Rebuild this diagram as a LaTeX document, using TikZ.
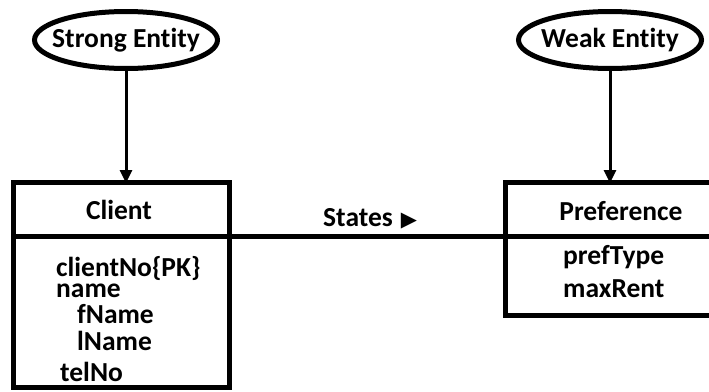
\documentclass[tikz,border=0pt]{standalone}
\usepackage{fontspec}
\setmainfont{Carlito}[Ligatures=NoCommon]
\newfontfamily\symbolfont{DejaVu Sans}
\usetikzlibrary{shapes.geometric,arrows.meta}

\tikzset{
  boldtext/.style={font=\fontsize{27.5}{29}\selectfont\bfseries, inner sep=0pt},
  entityshape/.style={ellipse, draw, line width=5pt, minimum width=183, minimum height=57,
    inner sep=0pt},
  boxframe/.style={draw, line width=5pt, inner sep=0pt, outer sep=0pt},
  boxtitle/.style={boldtext, anchor=base},
  attrtext/.style={boldtext, anchor=base west},
  pointer/.style={line width=3pt, -{Triangle[length=13pt,width=12pt]}, shorten >=-1pt},
  link/.style={line width=5pt}
}

\begin{document}
\begin{tikzpicture}[x=1pt,y=-1pt]
\useasboundingbox (0,0) rectangle (709,391);

% category labels
\node[entityshape] (strong) at (126,40) {};
\node[boldtext] (strongtext) at (strong.center) {Strong Entity};
\node[entityshape] (weak) at (610,40) {};
\node[boldtext] (weaktext) at (weak.center) {Weak Entity};

% Client entity: header and attribute compartment
\node[boxframe, minimum width=216, minimum height=54, anchor=north west] (clienthead) at (13,182) {};
\node[boxframe, minimum width=216, minimum height=151, anchor=north] (clientbody) at (clienthead.south) {};
\node[boxtitle] (clientname) at (119,219) {Client};

\node[attrtext] (a1) at (56,276) {clientNo\{PK\}};
\node[attrtext] (a2) at (56,297) {name};
\node[attrtext] (a3) at (77,323) {fName};
\node[attrtext] (a4) at (77,350) {lName};
\node[attrtext] (a5) at (60,381) {telNo};

% Preference entity, running past the right edge
\node[boxframe, minimum width=240, minimum height=54, anchor=north west] (prefhead) at (505,182) {};
\node[boxframe, minimum width=240, minimum height=79, anchor=north] (prefbody) at (prefhead.south) {};
\node[boxtitle] (prefname) at (621,220) {Preference};

\node[attrtext] (b1) at (563,264) {prefType};
\node[attrtext] (b2) at (563,297) {maxRent};

% relationship
\draw[link] (clienthead.south east) -- (prefhead.south west);
\node[boldtext, anchor=base west] (rel) at (323,226)
  {States\hspace{8pt}\raisebox{0pt}{\symbolfont\fontsize{21}{21}\selectfont\char"25B6}};

% pointers from labels to entities
\draw[pointer] (strong.south) -- (strong.south |- clienthead.north);
\draw[pointer] (weak.south) -- (weak.south |- prefhead.north);
\end{tikzpicture}
\end{document}
